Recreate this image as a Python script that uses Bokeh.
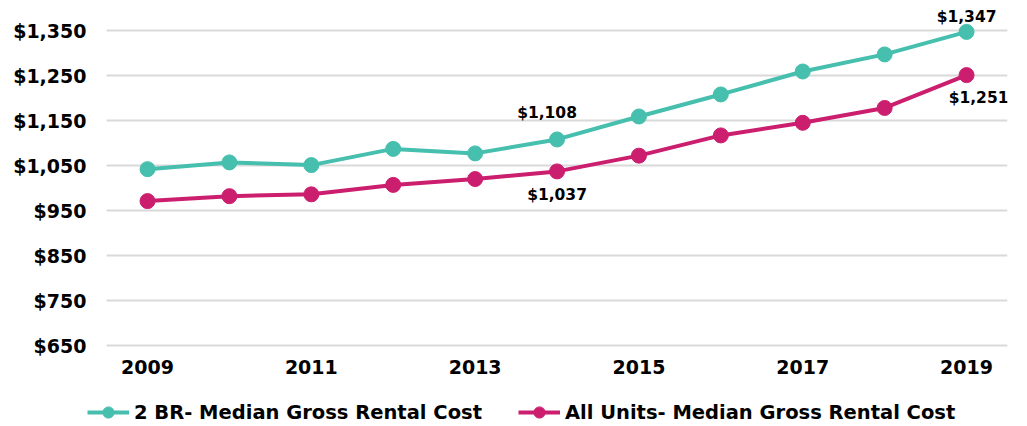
from bokeh.plotting import figure
from bokeh.models import FixedTicker, NumeralTickFormatter, ColumnDataSource, Legend, LegendItem
from bokeh.core.properties import value
from bokeh.embed import file_html
from bokeh.resources import INLINE

years = [2009, 2010, 2011, 2012, 2013, 2014, 2015, 2016, 2017, 2018, 2019]
br2 = [1042, 1057, 1051, 1087, 1077, 1108, 1159, 1208, 1259, 1297, 1347]
all_units = [971, 982, 986, 1007, 1020, 1037, 1072, 1117, 1145, 1178, 1251]
series_names = ["2 BR- Median Gross Rental Cost", "All Units- Median Gross Rental Cost"]
y_ticks = [650, 750, 850, 950, 1050, 1150, 1250, 1350]
x_ticks = [2009, 2011, 2013, 2015, 2017, 2019]

# labelled points: (series index, year index)
label_points = [(0, 5), (1, 5), (0, 10), (1, 10)]
label_dx = [-10, 0, 0, 12]
label_dy = [-26, 24, -15, 23]

TEAL = "#46BFAE"
PINK = "#CC1E6E"
FONT = "DejaVu Sans"

p = figure(frame_width=921, frame_height=418, output_backend="svg", toolbar_location=None,
           x_range=(2008.255, 2019.5), y_range=(470.1, 1399),
           min_border_left=86, min_border_right=8, min_border_top=8, min_border_bottom=0)
p.outline_line_color = None
p.background_fill_color = "white"

p.yaxis.ticker = FixedTicker(ticks=y_ticks)
p.yaxis.formatter = NumeralTickFormatter(format="$0,0")
p.xaxis.ticker = FixedTicker(ticks=x_ticks)
p.xaxis.fixed_location = y_ticks[0]
for ax in (p.xaxis[0], p.yaxis[0]):
    ax.axis_line_color = None
    ax.major_tick_line_color = None
    ax.minor_tick_line_color = None
    ax.major_tick_out = 0
    ax.major_tick_in = 0
    ax.minor_tick_out = 0
    ax.minor_tick_in = 0
    ax.axis_label_standoff = 0
    ax.major_label_text_font = FONT
    ax.major_label_text_font_style = "bold"
    ax.major_label_text_font_size = "19px"
    ax.major_label_text_color = "#000000"
p.yaxis.major_label_standoff = 0
p.xaxis.major_label_standoff = 14

p.xgrid.grid_line_color = None
p.ygrid.grid_line_color = None
# horizontal gridlines spanning the category band only
p.segment(x0=[years[0] - 0.5] * len(y_ticks), x1=[years[-1] + 0.5] * len(y_ticks),
          y0=y_ticks, y1=y_ticks, line_color="#D9D9D9", line_width=2)

colors = [TEAL, PINK]
items = []
for vals, name, c in zip([br2, all_units], series_names, colors):
    src = ColumnDataSource(dict(x=years, y=vals))
    l = p.line("x", "y", source=src, line_color=c, line_width=4)
    s = p.scatter("x", "y", source=src, size=15, fill_color=c, line_color=c)
    items.append(LegendItem(label=name, renderers=[l, s]))

series = [br2, all_units]
lx = [years[j] for i, j in label_points]
ly = [series[i][j] for i, j in label_points]
lt = ["${:,}".format(v) for v in ly]
lsrc = ColumnDataSource(dict(x=lx, y=ly, t=lt, dx=label_dx, dy=label_dy))
p.text("x", "y", text="t", source=lsrc, x_offset="dx", y_offset="dy",
       text_font=value(FONT), text_font_style="bold", text_font_size="15.5px",
       text_align="center", text_baseline="middle", text_color="#000000")

legend = Legend(items=items, orientation="horizontal", location=(1, 0),
                label_text_font=FONT, label_text_font_style="bold",
                label_text_font_size="19.5px", label_text_color="#000000",
                glyph_width=42, glyph_height=28, spacing=36, padding=2, margin=0,
                border_line_color=None, background_fill_alpha=0)
p.add_layout(legend)

open("out.html", "w").write(file_html(p, INLINE))
